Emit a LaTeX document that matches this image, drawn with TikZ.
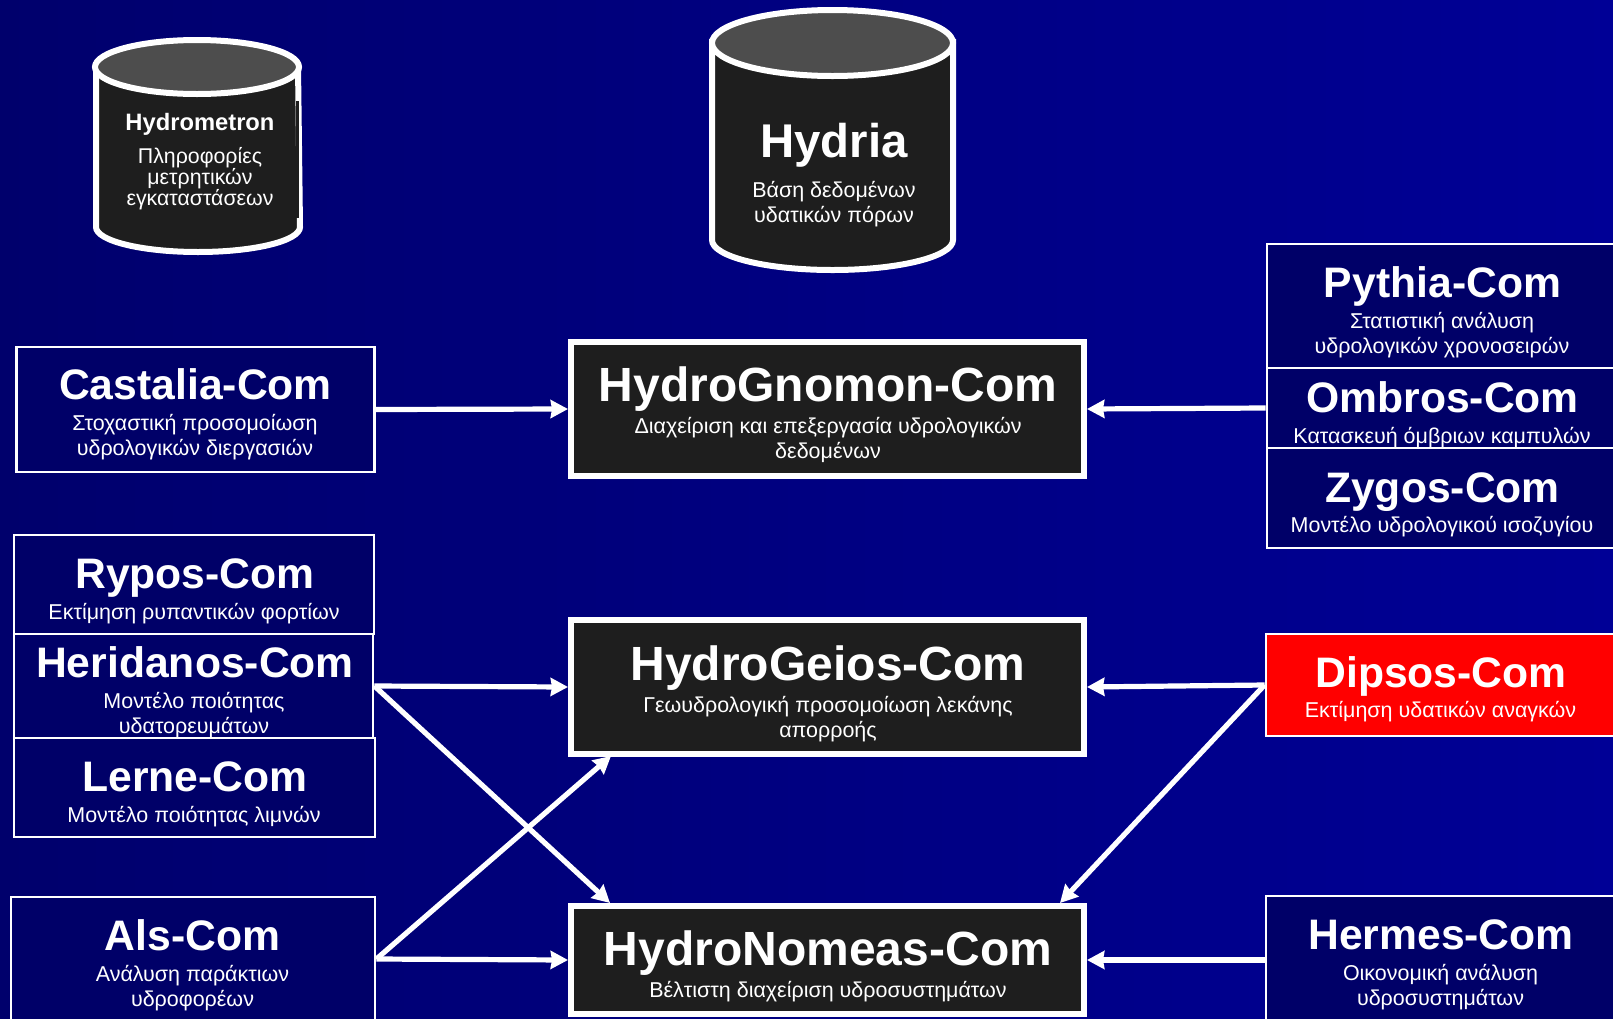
\documentclass[tikz,border=0pt]{standalone}
\usepackage{fontspec}
\setmainfont{Liberation Sans}
\usetikzlibrary{arrows.meta}

\definecolor{bgleft}{RGB}{0,0,108}
\definecolor{bgright}{RGB}{0,0,150}
\definecolor{boxnavy}{RGB}{0,0,104}
\definecolor{boxblack}{RGB}{30,30,30}
\definecolor{lidgray}{RGB}{77,77,77}
\AtBeginDocument{\setlength{\lineskiplimit}{-10pt}}

\begin{document}
\begin{tikzpicture}[%
          x=0.75pt, y=-0.75pt,
          boxsize/.style 2 args={minimum width=#1*0.75pt, minimum height=#2*0.75pt, inner sep=0pt},
          combox/.style={draw=white, fill=boxnavy, line width=2.1pt},
          redbox/.style={draw=white, fill=red, line width=2.1pt},
          mainbox/.style={draw=white, fill=boxblack, line width=4.5pt},
          title/.style={text=white, anchor=base, inner sep=0pt, font=\fontsize{32}{36}\selectfont\bfseries},
          bigtitle/.style={text=white, anchor=base, inner sep=0pt, font=\fontsize{36}{42}\selectfont\bfseries},
          descr/.style={text=white, anchor=base, inner sep=0pt, align=center, font=\fontsize{16.1}{18.75}\selectfont},
          drum/.style={draw=white, line width=4.5pt},
          flow/.style={draw=white, line width=3.9pt, -{Stealth[length=13pt,width=13.5pt,inset=1pt]}}]

  \path[use as bounding box, clip] (0,0) rectangle (1613,1018);
  \shade[left color=bgleft, right color=bgright] (0,0) rectangle (1613,1018);

  % the two databases
  \draw[drum, fill=boxblack] (96,66) -- (96,227) arc[start angle=180, end angle=0, x radius=102, y radius=25] -- (298,66) -- cycle;
  \fill[boxblack] (296,101) rectangle (299,218);
  \draw[drum, fill=lidgray] (197,67) ellipse [x radius=102, y radius=27];
  \draw[drum, fill=boxblack] (712,42) -- (712,240) arc[start angle=180, end angle=0, x radius=120.5, y radius=30] -- (953,42) -- cycle;
  \draw[drum, fill=lidgray] (832.5,43) ellipse [x radius=120.5, y radius=33];

  \node[text=white, anchor=base, inner sep=0pt, font=\fontsize{17.8}{20}\selectfont\bfseries] (hydrometront) at (200,130) {Hydrometron};
  \node[descr, font=\fontsize{16}{15.4}\selectfont] (hydrometrond) at (200,205) {Πληροφορίες\\μετρητικών\\εγκαταστάσεων};
  \node[text=white, anchor=base, inner sep=0pt, font=\fontsize{35.5}{40}\selectfont\bfseries] (hydriat) at (834,157) {Hydria};
  \node[descr] (hydriad) at (834,222) {Βάση δεδομένων\\υδατικών πόρων};

  % left column
  \node[combox, boxsize={358}{125}] (castalia) at (195.5,409.5) {};
  \node[combox, boxsize={360}{99}] (rypos) at (194,584.5) {};
  \node[combox, boxsize={359}{104}] (heridanos) at (193.5,686) {};
  \node[combox, boxsize={361}{99}] (lerne) at (194.5,787.5) {};
  \node[combox, boxsize={364}{124}] (als) at (193,959) {};

  % middle column
  \node[mainbox, boxsize={513}{134}] (hydrognomon) at (827.5,409) {};
  \node[mainbox, boxsize={513}{134}] (hydrogeios) at (827.5,687) {};
  \node[mainbox, boxsize={513}{108}] (hydronomeas) at (827.5,960) {};

  % right column
  \node[combox, boxsize={358}{124}] (pythia) at (1446,306) {};
  \node[combox, boxsize={358}{80}] (ombros) at (1446,408) {};
  \node[combox, boxsize={358}{100}] (zygos) at (1446,498) {};
  \node[redbox, boxsize={360}{102}] (dipsos) at (1446,685) {};
  \node[combox, boxsize={360}{128}] (hermes) at (1446,960) {};

  \node[title] (castaliat) at (195.5,399) {Castalia-Com};
  \node[descr] (castaliad) at (195,455) {Στοχαστική προσομοίωση\\υδρολογικών διεργασιών};
  \node[title] (ryposaat) at (195,588) {Rypos-Com};
  \node[descr] (ryposd) at (194,619) {Εκτίμηση ρυπαντικών φορτίων};
  \node[title] (heridanost) at (195,677) {Heridanos-Com};
  \node[descr] (heridanosd) at (194,733) {Μοντέλο ποιότητας\\υδατορευμάτων};
  \node[title] (lernet) at (195,791) {Lerne-Com};
  \node[descr] (lerned) at (194,822) {Μοντέλο ποιότητας λιμνών};
  \node[title] (alst) at (192.5,950) {Als-Com};
  \node[descr] (alsd) at (192.5,1006) {Ανάλυση παράκτιων\\υδροφορέων};

  \node[bigtitle] (hydrognomont) at (828,401) {HydroGnomon-Com};
  \node[descr] (hydrognomond) at (828,458) {Διαχείριση και επεξεργασία υδρολογικών\\δεδομένων};
  \node[bigtitle] (hydrogeiost) at (828,680) {HydroGeios-Com};
  \node[descr] (hydrogeiosd) at (828,737) {Γεωυδρολογική προσομοίωση λεκάνης\\απορροής};
  \node[bigtitle] (hydronomeast) at (828,965) {HydroNomeas-Com};
  \node[descr] (hydronomeasd) at (828,997) {Βέλτιστη διαχείριση υδροσυστημάτων};

  \node[title] (pythiat) at (1442.5,297) {Pythia-Com};
  \node[descr] (pythiad) at (1442,353) {Στατιστική ανάλυση\\υδρολογικών χρονοσειρών};
  \node[title] (ombrost) at (1442.5,412) {Ombros-Com};
  \node[descr] (ombrosd) at (1442,443) {Κατασκευή όμβριων καμπυλών};
  \node[title] (zygost) at (1442.5,502) {Zygos-Com};
  \node[descr] (zygosd) at (1442,532) {Μοντέλο υδρολογικού ισοζυγίου};
  \node[title] (dipsost) at (1441,687) {Dipsos-Com};
  \node[descr] (dipsosd) at (1440.5,717) {Εκτίμηση υδατικών αναγκών};
  \node[title] (hermest) at (1441,949) {Hermes-Com};
  \node[descr] (hermesd) at (1440.5,1005) {Οικονομική ανάλυση\\υδροσυστημάτων};

  \coordinate (geiosin) at (611,756);
  \coordinate (nomeasleft) at (610,903);
  \coordinate (nomeasright) at (1060,903);

  \draw[flow] (castalia.east) -- (hydrognomon.west);
  \draw[flow] (ombros.west) -- (hydrognomon.east);
  \draw[flow] (heridanos.east) -- (hydrogeios.west);
  \draw[flow] (heridanos.east) -- (nomeasleft);
  \draw[flow] (als.east) -- (geiosin);
  \draw[flow] (als.east) -- (hydronomeas.west);
  \draw[flow] (dipsos.west) -- (hydrogeios.east);
  \draw[flow] (dipsos.west) -- (nomeasright);
  \draw[flow] (hermes.west) -- (hydronomeas.east);

\end{tikzpicture}
\end{document}
